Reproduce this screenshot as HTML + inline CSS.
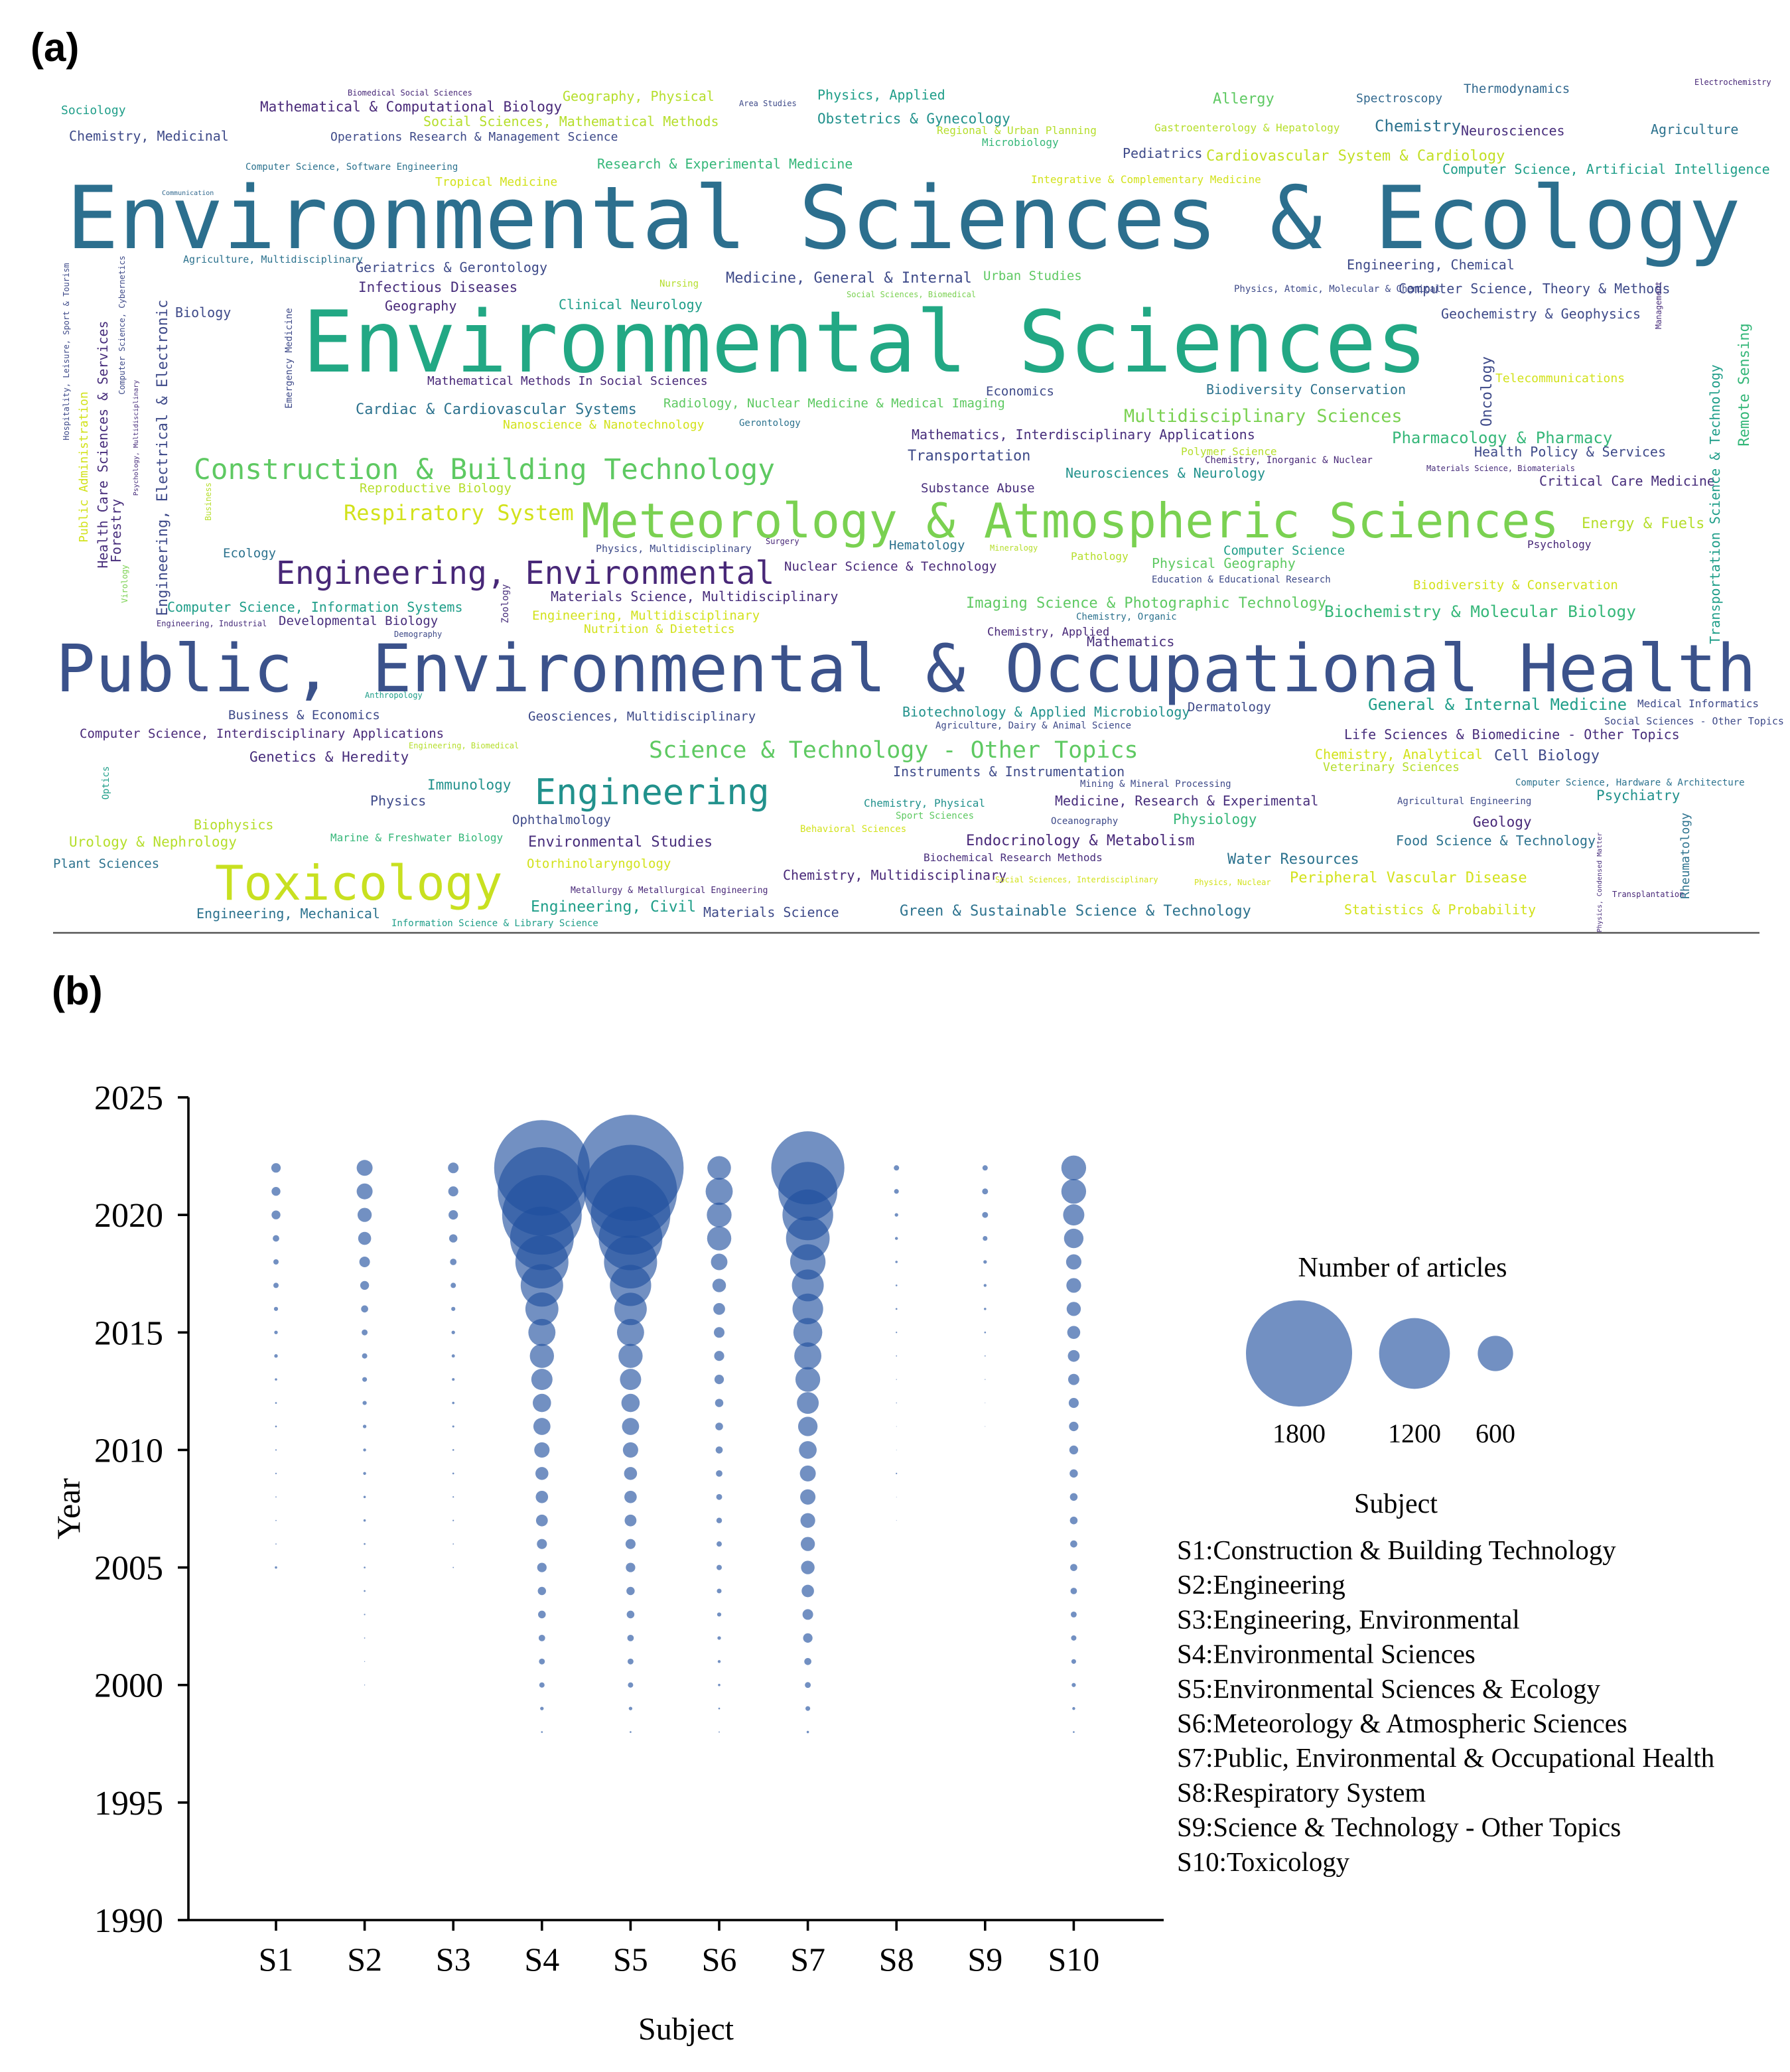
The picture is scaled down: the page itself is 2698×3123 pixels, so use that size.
<!DOCTYPE html>
<html><head><meta charset="utf-8"><style>
html,body{margin:0;padding:0;background:#fff;}
svg{display:block;}
</style></head><body>
<svg id="fig" width="2698" height="3123" viewBox="0 0 1349 1561.5" xmlns="http://www.w3.org/2000/svg">
<rect width="1349" height="1561.5" fill="#fff"/>
<text x="23" y="46" font-family="Liberation Sans, sans-serif" font-weight="bold" font-size="30">(a)</text>
<g id="cloud" font-family="DejaVu Sans Mono, Liberation Mono, monospace"></g>
<line x1="40" y1="703" x2="1326" y2="703" stroke="#555" stroke-width="1.2"/>
<text x="39" y="757" font-family="Liberation Sans, sans-serif" font-weight="bold" font-size="30">(b)</text>
<g id="chart" font-family="Liberation Serif, serif"></g>
</svg>
<script>
// ---- bubble chart data ----
const subjects = ["S1","S2","S3","S4","S5","S6","S7","S8","S9","S10"];
const years = [2022,2021,2020,2019,2018,2017,2016,2015,2014,2013,2012,2011,2010,2009,2008,2007,2006,2005,2004,2003,2002,2001,2000,1999,1998];
const s1 = [160,150,150,110,90,90,70,60,60,40,30,30,25,25,20,20,20,40,0,0,0,0,0,0,0];
const s2 = [270,270,240,220,180,150,120,100,90,80,70,60,50,50,40,40,30,30,30,25,20,15,15,0,0];
const s3 = [180,170,160,140,110,90,70,60,55,45,40,35,30,30,25,25,20,20,0,0,0,0,0,0,0];
const s4 = [1620,1500,1350,1080,900,720,560,460,410,360,310,290,260,220,210,200,170,160,140,130,110,100,90,60,30];
const s5 = [1800,1580,1350,1080,900,700,550,460,410,360,310,290,260,220,210,200,170,160,140,130,110,100,90,60,30];
const s6 = [400,460,420,410,280,230,200,180,170,160,140,130,120,110,100,95,90,90,80,70,60,50,40,30,20];
const s7 = [1240,1000,860,740,600,540,520,490,460,420,370,330,300,270,260,250,240,230,210,180,160,120,100,80,40];
const s8 = [90,80,60,50,40,30,30,25,20,15,15,10,10,25,10,10,0,0,0,0,0,0,0,0,0];
const s9 = [90,100,100,80,60,50,40,30,20,15,10,10,0,0,0,0,0,0,0,0,0,0,0,0,0];
const s10 = [420,420,360,330,260,250,240,220,200,190,170,160,150,140,130,130,120,120,110,100,90,80,70,50,30];
const series = [s1,s2,s3,s4,s5,s6,s7,s8,s9,s10];
const yTicks = [1990,1995,2000,2005,2010,2015,2020,2025];
const legendSizes = [1800,1200,600];
const subjectNames = ["S1:Construction & Building Technology","S2:Engineering","S3:Engineering, Environmental","S4:Environmental Sciences","S5:Environmental Sciences & Ecology","S6:Meteorology & Atmospheric Sciences","S7:Public, Environmental & Occupational Health","S8:Respiratory System","S9:Science & Technology - Other Topics","S10:Toxicology"];

const NS="http://www.w3.org/2000/svg";
function mk(tag,attrs,parent,txt){const e=document.createElementNS(NS,tag);for(const k in attrs)e.setAttribute(k,attrs[k]);if(txt!==undefined)e.textContent=txt;parent.appendChild(e);return e;}
const chart=document.getElementById('chart');
const X0=142,Y0=1447,Ytop=827;
function yPos(v){return Y0-(v-1990)/(2025-1990)*(Y0-Ytop);}
function xPos(i){return 208+i*66.8;}
function rPos(n){return n/45;}

let ax=mk('line',{x1:X0,y1:Ytop,x2:X0,y2:Y0,stroke:'#000','stroke-width':1.8},chart);


let bx=mk('line',{x1:X0,y1:Y0,x2:877,y2:Y0,stroke:'#000','stroke-width':1.8},chart);


yTicks.forEach(v=>{
  const y=yPos(v);
  const t=mk('line',{x1:X0-8,y1:y,x2:X0,y2:y,stroke:'#000','stroke-width':1.8},chart);
  
  
  const l=mk('text',{x:X0-19,y:y+9,'text-anchor':'end','font-size':26},chart,String(v));
  
  
});
subjects.forEach((s,i)=>{
  const x=xPos(i);
  const t=mk('line',{x1:x,y1:Y0,x2:x,y2:Y0+8,stroke:'#000','stroke-width':1.8},chart);
  
  
  const l=mk('text',{x:x,y:Y0+38,'text-anchor':'middle','font-size':25},chart,s);
  
  
});
let yt=mk('text',{x:0,y:0,transform:'translate(60,1137) rotate(-90)','text-anchor':'middle','font-size':25},chart,'Year');


let xt=mk('text',{x:517,y:1537,'text-anchor':'middle','font-size':24},chart,'Subject');



series.forEach((arr,i)=>{
  arr.forEach((n,j)=>{
    if(n<=0)return;
    const c=mk('circle',{cx:xPos(i),cy:yPos(years[j]),r:rPos(n),fill:'#1f4f9e','fill-opacity':0.63},chart);
    
    
  });
});

// size legend
let lt=mk('text',{x:1057,y:962,'text-anchor':'middle','font-size':21},chart,'Number of articles');


const lx=[979,1066,1127];
legendSizes.forEach((n,i)=>{
  const c=mk('circle',{cx:lx[i],cy:1020,r:rPos(n),fill:'#1f4f9e','fill-opacity':0.63},chart);
  
  
  const t=mk('text',{x:lx[i],y:1087,'text-anchor':'middle','font-size':20},chart,String(n));
  
  
});
let st=mk('text',{x:1052,y:1140,'text-anchor':'middle','font-size':21},chart,'Subject');


subjectNames.forEach((s,i)=>{
  const t=mk('text',{x:887,y:1175+i*26.1,'font-size':20.4},chart,s);
  
  
});

// ---- word cloud ----
const words=[
["Environmental Sciences & Ecology",50,187,65.5,"#2c6f8e",0],
["Environmental Sciences",228,280,64,"#22a884",0],
["Public, Environmental & Occupational Health",42,521,49.5,"#3b528b",0],
["Meteorology & Atmospheric Sciences",438,405,36,"#7ad151",0],
["Construction & Building Technology",146,361,21.4,"#5ec962",0],
["Engineering, Environmental",208,440,24,"#482878",0],
["Toxicology",162,678,36,"#c8e020",0],
["Engineering",403,606,26.7,"#21918c",0],
["Science & Technology - Other Topics",489,571,17.5,"#5ec962",0],
["Respiratory System",259,392,16,"#d2e21b",0],
["Biochemistry & Molecular Biology",998,465,12.2,"#35b779",0],
["Multidisciplinary Sciences",847,318,13.4,"#7ad151",0],
["Sociology",46,86,9,"#1f9e89",0],
["Mathematical & Computational Biology",196,84,10.5,"#482878",0],
["Biomedical Social Sciences",262,72,6,"#482878",0],
["Geography, Physical",424,76,10,"#b5de2b",0],
["Area Studies",557,80,6,"#3e4a89",0],
["Physics, Applied",616,75,10,"#1f9e89",0],
["Allergy",914,78,11,"#5ec962",0],
["Spectroscopy",1022,77,9,"#31688e",0],
["Thermodynamics",1103,70,9.5,"#31688e",0],
["Electrochemistry",1277,64,6,"#482878",0],
["Chemistry, Medicinal",52,106,10,"#3e4a89",0],
["Social Sciences, Mathematical Methods",319,95,10,"#b5de2b",0],
["Operations Research & Management Science",249,106,9,"#3e4a89",0],
["Obstetrics & Gynecology",616,93,10.5,"#21918c",0],
["Regional & Urban Planning",706,101,8,"#b5de2b",0],
["Microbiology",740,110,8,"#35b779",0],
["Gastroenterology & Hepatology",870,99,8,"#b5de2b",0],
["Chemistry",1036,99,12,"#2c728e",0],
["Neurosciences",1101,102,10,"#472d7b",0],
["Agriculture",1244,101,10,"#2c728e",0],
["Pediatrics",846,119,10,"#3e4a89",0],
["Cardiovascular System & Cardiology",909,121,11,"#c2df23",0],
["Research & Experimental Medicine",450,127,10,"#35b779",0],
["Computer Science, Software Engineering",185,128,7,"#2c728e",0],
["Tropical Medicine",328,140,9,"#d2e21b",0],
["Integrative & Complementary Medicine",777,138,8,"#d2e21b",0],
["Computer Science, Artificial Intelligence",1087,131,10,"#1f9e89",0],
["Communication",122,147,5,"#31688e",0],
["Agriculture, Multidisciplinary",138,198,7.5,"#2c728e",0],
["Geriatrics & Gerontology",268,205,10,"#3e4a89",0],
["Engineering, Chemical",1015,203,10,"#3e4a89",0],
["Medicine, General & Internal",547,213,11,"#3e4a89",0],
["Urban Studies",741,211,9.5,"#5ec962",0],
["Nursing",497,216,7,"#b5de2b",0],
["Infectious Diseases",270,220,10.5,"#472d7b",0],
["Physics, Atomic, Molecular & Chemical",930,220,7,"#3e4a89",0],
["Computer Science, Theory & Methods",1054,221,10,"#3e4a89",0],
["Social Sciences, Biomedical",638,224,6,"#7ad151",0],
["Clinical Neurology",421,233,10,"#1f9e89",0],
["Geography",290,234,10,"#482878",0],
["Biology",132,239,10,"#3e4a89",0],
["Geochemistry & Geophysics",1086,240,10,"#3e4a89",0],
["Mathematical Methods In Social Sciences",322,290,9,"#482878",0],
["Radiology, Nuclear Medicine & Medical Imaging",500,307,9.5,"#5ec962",0],
["Biodiversity Conservation",909,297,10,"#2c728e",0],
["Economics",743,298,9.5,"#3e4a89",0],
["Cardiac & Cardiovascular Systems",268,312,11,"#2c728e",0],
["Telecommunications",1127,288,9,"#d2e21b",0],
["Nanoscience & Nanotechnology",379,323,9,"#d2e21b",0],
["Gerontology",557,321,7,"#2c728e",0],
["Mathematics, Interdisciplinary Applications",687,331,10,"#472d7b",0],
["Pharmacology & Pharmacy",1049,334,12,"#35b779",0],
["Health Policy & Services",1111,344,10,"#3e4a89",0],
["Transportation",684,347,11,"#3e4a89",0],
["Polymer Science",890,343,8,"#b5de2b",0],
["Chemistry, Inorganic & Nuclear",908,349,7,"#482878",0],
["Neurosciences & Neurology",803,360,10,"#21918c",0],
["Materials Science, Biomaterials",1075,355,6,"#472d7b",0],
["Reproductive Biology",271,371,9.5,"#b5de2b",0],
["Substance Abuse",694,371,9.5,"#472d7b",0],
["Critical Care Medicine",1160,366,10,"#472d7b",0],
["Energy & Fuels",1192,398,11,"#b5de2b",0],
["Psychology",1151,413,8,"#482878",0],
["Ecology",168,420,9.5,"#2c728e",0],
["Physics, Multidisciplinary",449,416,7.5,"#3e4a89",0],
["Surgery",577,410,6,"#482878",0],
["Hematology",670,414,9.5,"#2c728e",0],
["Mineralogy",746,415,6,"#b5de2b",0],
["Pathology",807,422,8,"#b5de2b",0],
["Computer Science",922,418,9.5,"#1f9e89",0],
["Physical Geography",868,428,10,"#5ec962",0],
["Nuclear Science & Technology",591,430,9.5,"#482878",0],
["Education & Educational Research",868,439,7,"#3e4a89",0],
["Materials Science, Multidisciplinary",415,453,10,"#472d7b",0],
["Biodiversity & Conservation",1065,444,9.5,"#d2e21b",0],
["Computer Science, Information Systems",126,461,10,"#1f9e89",0],
["Imaging Science & Photographic Technology",728,458,11,"#5ec962",0],
["Engineering, Multidisciplinary",401,467,9.5,"#d2e21b",0],
["Developmental Biology",210,471,9.5,"#472d7b",0],
["Engineering, Industrial",118,472,6,"#472d7b",0],
["Chemistry, Organic",811,467,7,"#2c728e",0],
["Nutrition & Dietetics",440,477,9,"#d2e21b",0],
["Demography",297,480,6,"#3e4a89",0],
["Chemistry, Applied",744,479,8.5,"#482878",0],
["Mathematics",819,487,10,"#472d7b",0],
["Anthropology",275,526,6,"#1f9e89",0],
["General & Internal Medicine",1031,535,12,"#1f9e89",0],
["Medical Informatics",1234,533,8,"#3e4a89",0],
["Biotechnology & Applied Microbiology",680,540,10,"#21918c",0],
["Dermatology",895,536,9.5,"#3e4a89",0],
["Business & Economics",172,542,9.5,"#3e4a89",0],
["Geosciences, Multidisciplinary",398,543,9.5,"#3e4a89",0],
["Social Sciences - Other Topics",1209,546,7.5,"#3e4a89",0],
["Agriculture, Dairy & Animal Science",705,549,7,"#3e4a89",0],
["Computer Science, Interdisciplinary Applications",60,556,9.5,"#482878",0],
["Life Sciences & Biomedicine - Other Topics",1013,557,10,"#472d7b",0],
["Engineering, Biomedical",308,564,6,"#b5de2b",0],
["Chemistry, Analytical",991,572,10,"#d2e21b",0],
["Cell Biology",1126,573,11,"#3e4a89",0],
["Genetics & Heredity",188,574,10.5,"#472d7b",0],
["Veterinary Sciences",997,581,9,"#b5de2b",0],
["Instruments & Instrumentation",673,585,10,"#3e4a89",0],
["Mining & Mineral Processing",814,593,7,"#3e4a89",0],
["Immunology",322,595,10.5,"#21918c",0],
["Computer Science, Hardware & Architecture",1142,592,7,"#2c728e",0],
["Psychiatry",1203,603,10.5,"#21918c",0],
["Physics",279,607,10,"#3e4a89",0],
["Chemistry, Physical",651,608,8,"#21918c",0],
["Medicine, Research & Experimental",795,607,10,"#472d7b",0],
["Agricultural Engineering",1053,606,7,"#3e4a89",0],
["Ophthalmology",386,621,9.5,"#3e4a89",0],
["Sport Sciences",675,617,7,"#5ec962",0],
["Oceanography",792,621,7,"#3e4a89",0],
["Physiology",884,621,10.5,"#35b779",0],
["Geology",1110,623,10.5,"#482878",0],
["Biophysics",146,625,10,"#b5de2b",0],
["Behavioral Sciences",603,627,7,"#d2e21b",0],
["Marine & Freshwater Biology",249,634,8,"#35b779",0],
["Food Science & Technology",1052,637,10,"#2c728e",0],
["Urology & Nephrology",52,638,10.5,"#b5de2b",0],
["Environmental Studies",398,638,11,"#472d7b",0],
["Endocrinology & Metabolism",728,637,11,"#482878",0],
["Biochemical Research Methods",696,649,8,"#472d7b",0],
["Water Resources",925,651,11,"#2c728e",0],
["Plant Sciences",40,654,9.5,"#2c728e",0],
["Otorhinolaryngology",397,654,9.5,"#d2e21b",0],
["Chemistry, Multidisciplinary",590,663,10,"#482878",0],
["Social Sciences, Interdisciplinary",750,665,6,"#d2e21b",0],
["Physics, Nuclear",900,667,6,"#d2e21b",0],
["Peripheral Vascular Disease",972,665,11,"#d2e21b",0],
["Metallurgy & Metallurgical Engineering",430,673,6.5,"#482878",0],
["Transplantation",1215,676,6,"#482878",0],
["Engineering, Civil",400,687,11.5,"#1f9e89",0],
["Engineering, Mechanical",148,692,10,"#2c728e",0],
["Materials Science",530,691,10,"#3e4a89",0],
["Green & Sustainable Science & Technology",678,690,11,"#2c728e",0],
["Statistics & Probability",1013,689,10,"#d2e21b",0],
["Information Science & Library Science",295,698,7,"#1f9e89",0],
["Health Care Sciences & Services",81,335,10,"#472d7b",1],
["Engineering, Electrical & Electronic",126,345,11,"#3e4a89",1],
["Public Administration",66,352,9,"#d2e21b",1],
["Hospitality, Leisure, Sport & Tourism",52,265,6,"#3e4a89",1],
["Computer Science, Cybernetics",94,245,6,"#3e4a89",1],
["Forestry",91,400,10,"#472d7b",1],
["Emergency Medicine",220,270,7,"#3e4a89",1],
["Psychology, Multidisciplinary",104,330,5,"#472d7b",1],
["Virology",96,440,6,"#7ad151",1],
["Business",159,378,6,"#b5de2b",1],
["Zoology",383,455,7,"#472d7b",1],
["Oncology",1124,295,11,"#3e4a89",1],
["Transportation Science & Technology",1296,380,10,"#1f9e89",1],
["Remote Sensing",1318,290,11,"#35b779",1],
["Management",1252,230,6,"#472d7b",1],
["Rheumatology",1273,645,9,"#2c728e",1],
["Optics",82,590,7,"#1f9e89",1],
["Physics, Condensed Matter",1207,665,5,"#472d7b",1]
];
const cloud=document.getElementById('cloud');
words.forEach(w=>{
  let t;
  if(w[5]){
    t=mk('text',{x:0,y:0,transform:'translate('+w[1]+','+w[2]+') rotate(-90)','text-anchor':'middle','font-size':w[3],fill:w[4]},cloud,w[0]);
  } else {
    t=mk('text',{x:w[1],y:w[2],'font-size':w[3],fill:w[4]},cloud,w[0]);
  }
  
  
});
</script>
</body></html>
